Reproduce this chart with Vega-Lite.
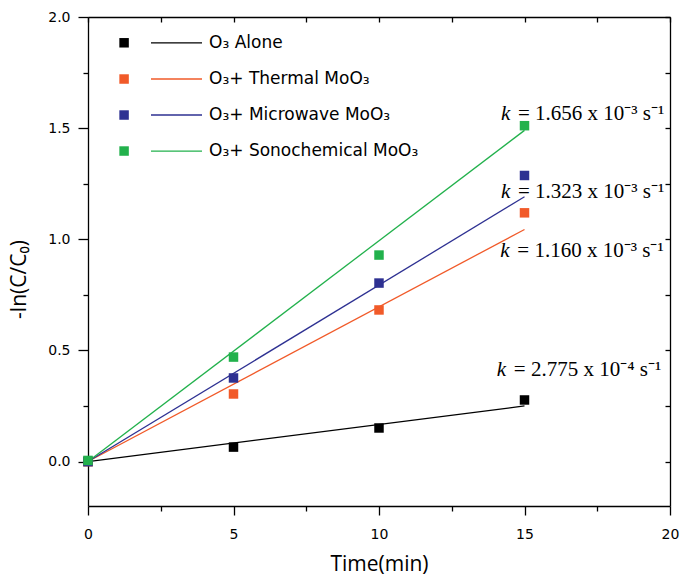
{
  "$schema": "https://vega.github.io/schema/vega-lite/v6.json",
  "width": 582,
  "height": 489,
  "autosize": {"type": "none"},
  "padding": {"left": 88, "top": 17, "right": 10, "bottom": 70},
  "background": "white",
  "config": {"view": {"stroke": null}},
  "datasets": {
    "points": [
      {"series": "O3 Alone", "time": 0, "value": 0},
      {"series": "O3 Alone", "time": 5, "value": 0.065},
      {"series": "O3 Alone", "time": 10, "value": 0.151},
      {"series": "O3 Alone", "time": 15, "value": 0.277},
      {"series": "Thermal", "time": 0, "value": 0},
      {"series": "Thermal", "time": 5, "value": 0.304},
      {"series": "Thermal", "time": 10, "value": 0.682},
      {"series": "Thermal", "time": 15, "value": 1.119},
      {"series": "Microwave", "time": 0, "value": 0},
      {"series": "Microwave", "time": 5, "value": 0.376},
      {"series": "Microwave", "time": 10, "value": 0.803},
      {"series": "Microwave", "time": 15, "value": 1.287},
      {"series": "Sonochemical", "time": 0, "value": 0.005},
      {"series": "Sonochemical", "time": 5, "value": 0.47},
      {"series": "Sonochemical", "time": 10, "value": 0.929},
      {"series": "Sonochemical", "time": 15, "value": 1.511}
    ],
    "fits": [
      {"series": "O3 Alone", "time": 0, "value": 0},
      {"series": "O3 Alone", "time": 15, "value": 0.25},
      {"series": "Thermal", "time": 0, "value": 0},
      {"series": "Thermal", "time": 15, "value": 1.044},
      {"series": "Microwave", "time": 0, "value": 0},
      {"series": "Microwave", "time": 15, "value": 1.191},
      {"series": "Sonochemical", "time": 0, "value": 0},
      {"series": "Sonochemical", "time": 15, "value": 1.49}
    ],
    "legend": [
      {"series": "O3 Alone", "label": "O₃ Alone", "ly": 1.884},
      {"series": "Thermal", "label": "O₃+ Thermal MoO₃", "ly": 1.721},
      {"series": "Microwave", "label": "O₃+ Microwave MoO₃", "ly": 1.559},
      {"series": "Sonochemical", "label": "O₃+ Sonochemical MoO₃", "ly": 1.397}
    ],
    "notes": [
      {"rest": "= 1.656 x 10⁻³ s⁻¹", "t": 14.19, "v": 1.536},
      {"rest": "= 1.323 x 10⁻³ s⁻¹", "t": 14.19, "v": 1.185},
      {"rest": "= 1.160 x 10⁻³ s⁻¹", "t": 14.17, "v": 0.92},
      {"rest": "= 2.775 x 10⁻⁴ s⁻¹", "t": 14.05, "v": 0.385}
    ]
  },
  "resolve": {"axis": {"x": "independent", "y": "independent"}},
  "layer": [
    {
      "data": {"name": "fits"},
      "mark": {"type": "line", "strokeWidth": 1.3},
      "encoding": {
        "x": {
          "field": "time", "type": "quantitative",
          "scale": {"domain": [0, 20], "nice": false},
          "axis": {
            "orient": "bottom",
            "values": [0, 2.5, 5, 7.5, 10, 12.5, 15, 17.5, 20],
            "labelExpr": "datum.value % 5 === 0 ? format(datum.value, 'd') : ''",
            "tickSize": {"condition": {"test": "datum.value % 5 === 0", "value": 9}, "value": 5},
            "grid": false, "labelFlush": false, "labelOverlap": false, "labelBound": false,
            "domainColor": "black", "domainWidth": 1.3, "tickColor": "black", "tickWidth": 1.3,
            "labelFont": "DejaVu Sans", "labelFontSize": 14, "labelColor": "black", "labelPadding": 12,
            "title": "Time(min)", "titleFont": "Open Sans", "titleFontSize": 21, "titleFontWeight": "normal",
            "titleColor": "black", "titlePadding": 12
          }
        },
        "y": {
          "field": "value", "type": "quantitative",
          "scale": {"domain": [-0.2, 2.0], "nice": false, "zero": false},
          "axis": {
            "orient": "left",
            "values": [0, 0.25, 0.5, 0.75, 1, 1.25, 1.5, 1.75, 2],
            "labelExpr": "datum.value % 0.5 === 0 ? format(datum.value, '.1f') : ''",
            "tickSize": {"condition": {"test": "datum.value % 0.5 === 0", "value": 10}, "value": 5},
            "grid": false, "labelFlush": false, "labelOverlap": false, "labelBound": false,
            "domainColor": "black", "domainWidth": 1.3, "tickColor": "black", "tickWidth": 1.3,
            "labelFont": "DejaVu Sans", "labelFontSize": 14, "labelColor": "black", "labelPadding": 8,
            "title": "-ln(C/C₀)", "titleFont": "Open Sans", "titleFontSize": 21, "titleFontWeight": "normal",
            "titleColor": "black", "titlePadding": 18, "titleY": 262
          }
        },
        "detail": {"field": "series"},
        "color": {
          "field": "series", "type": "nominal",
          "scale": {"domain": ["O3 Alone", "Thermal", "Microwave", "Sonochemical"], "range": ["#000000", "#F15A29", "#2E3192", "#22B14C"]},
          "legend": null
        }
      }
    },
    {
      "data": {"name": "points"},
      "mark": {"type": "point", "shape": "square", "filled": true, "size": 90, "opacity": 1},
      "encoding": {
        "x": {
          "field": "time", "type": "quantitative",
          "axis": {
            "orient": "top", "values": [0, 2.5, 5, 7.5, 10, 12.5, 15, 17.5, 20],
            "labels": false, "tickSize": -5, "title": null, "grid": false,
            "domainColor": "black", "domainWidth": 1.3, "tickColor": "black", "tickWidth": 1.3
          }
        },
        "y": {
          "field": "value", "type": "quantitative",
          "axis": {
            "orient": "right", "values": [0, 0.25, 0.5, 0.75, 1, 1.25, 1.5, 1.75, 2],
            "labels": false, "tickSize": -5, "title": null, "grid": false,
            "domainColor": "black", "domainWidth": 1.3, "tickColor": "black", "tickWidth": 1.3
          }
        },
        "color": {"field": "series", "type": "nominal", "legend": null}
      }
    },
    {
      "data": {"name": "legend"},
      "mark": {"type": "point", "shape": "square", "filled": true, "size": 90, "opacity": 1},
      "encoding": {
        "x": {"datum": 1.24, "type": "quantitative", "axis": null},
        "y": {"field": "ly", "type": "quantitative", "axis": null},
        "color": {"field": "series", "type": "nominal", "legend": null}
      }
    },
    {
      "data": {"name": "legend"},
      "mark": {"type": "rule", "strokeWidth": 1.3},
      "encoding": {
        "x": {"datum": 2.165, "type": "quantitative", "axis": null},
        "x2": {"datum": 3.918},
        "y": {"field": "ly", "type": "quantitative", "axis": null},
        "color": {"field": "series", "type": "nominal", "legend": null}
      }
    },
    {
      "data": {"name": "legend"},
      "mark": {"type": "text", "align": "left", "baseline": "middle", "font": "DejaVu Sans", "fontSize": 17, "color": "black"},
      "encoding": {
        "x": {"datum": 4.16, "type": "quantitative", "axis": null},
        "y": {"field": "ly", "type": "quantitative", "axis": null},
        "text": {"field": "label"}
      }
    },
    {
      "data": {"name": "notes"},
      "mark": {"type": "text", "align": "left", "baseline": "alphabetic", "font": "Liberation Serif", "fontSize": 21, "fontStyle": "italic", "color": "black"},
      "encoding": {
        "x": {"field": "t", "type": "quantitative", "axis": null},
        "y": {"field": "v", "type": "quantitative", "axis": null},
        "text": {"value": "k"}
      }
    },
    {
      "data": {"name": "notes"},
      "mark": {"type": "text", "align": "left", "baseline": "alphabetic", "font": "Liberation Serif", "fontSize": 21, "color": "black", "dx": 17},
      "encoding": {
        "x": {"field": "t", "type": "quantitative", "axis": null},
        "y": {"field": "v", "type": "quantitative", "axis": null},
        "text": {"field": "rest"}
      }
    }
  ]
}
